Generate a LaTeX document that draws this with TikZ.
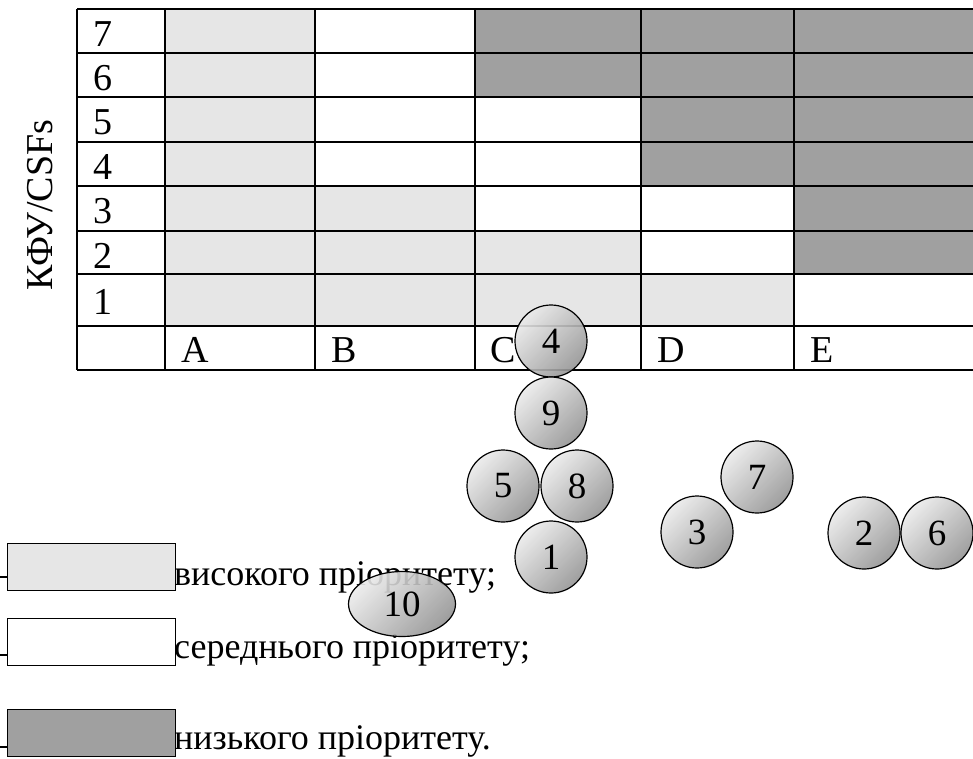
\documentclass[tikz,border=0pt]{standalone}
\usepackage{fontspec}
\setmainfont{Liberation Serif}
\usetikzlibrary{shapes.geometric}
\definecolor{lite}{HTML}{E6E6E6}
\definecolor{dark}{HTML}{A0A0A0}
\begin{document}
\begin{tikzpicture}[x=1pt,y=-1pt,
  gridline/.style={line width=2pt},
  lbl/.style={anchor=base west, inner sep=0pt, font=\fontsize{38}{38}\selectfont},
  legtext/.style={anchor=base west, inner sep=0pt, font=\fontsize{36}{36}\selectfont},
  ball/.style={circle, draw, line width=1.2pt, minimum size=72pt, inner sep=0pt,
    top color=black!8, bottom color=black!42, shading angle=45,
    fill opacity=0.9, text opacity=1, font=\fontsize{37}{37}\selectfont},
  legbox/.style={draw, line width=1.2pt, anchor=north west, minimum width=168pt,
    minimum height=47pt, inner sep=0pt},
  stub/.style={line width=1.2pt}]
\useasboundingbox (0,0) rectangle (973,758);
% cell fills
\fill[lite] (165,9) rectangle (315,186);
\fill[lite] (165,186) rectangle (475,231);
\fill[lite] (165,231) rectangle (641,274);
\fill[lite] (165,274) rectangle (794,326);
\fill[dark] (475,9) rectangle (973,97);
\fill[dark] (641,97) rectangle (973,186);
\fill[dark] (794,186) rectangle (973,274);
% grid
\foreach \y in {9,53,97,142,186,231,274,326,370}
  \draw[gridline] (77,\y) -- (973,\y);
\foreach \x in {77,165,315,475,641,794}
  \draw[gridline] (\x,9) -- (\x,370);
% row labels
\node[lbl] (r7) at (93,46) {7};
\node[lbl] (r6) at (93,90) {6};
\node[lbl] (r5) at (93,134) {5};
\node[lbl] (r4) at (93,179) {4};
\node[lbl] (r3) at (93,223) {3};
\node[lbl] (r2) at (93,268) {2};
\node[lbl] (r1) at (93,314) {1};
% column labels
\node[lbl] (cA) at (181,362) {A};
\node[lbl] (cB) at (331,362) {B};
\node[lbl] (cC) at (490,362) {C};
\node[lbl] (cD) at (657,362) {D};
\node[lbl] (cE) at (810,362) {E};
% axis label
\node[rotate=90, inner sep=0pt, font=\fontsize{38}{38}\selectfont] (ylab) at (40,205) {КФУ/CSFs};
% legend texts
\node[legtext] (t1) at (174,585) {високого пріоритету;};
\node[legtext] (t2) at (174,658) {середнього пріоритету;};
\node[legtext] (t3) at (174,749) {низького пріоритету.};
% legend boxes
\node[legbox, fill=lite] (b1) at (7,543) {};
\node[legbox, fill=white] (b2) at (7,618) {};
\node[legbox, fill=dark] (b3) at (7,709) {};
\coordinate (s1) at (0,577);
\coordinate (s2) at (0,655);
\coordinate (s3) at (0,747);
\draw[stub] (s1) -- (s1 -| b1.west);
\draw[stub] (s2) -- (s2 -| b2.west);
\draw[stub] (s3) -- (s3 -| b3.west);
% balls
\node[ball] (c4) at (551,341) {4};
\node[ball] (c9) at (551,413) {9};
\node[ball] (c5) at (503,486) {5};
\node[ball] (c8) at (577,486) {8};
\node[ball] (c1) at (551,557) {1};
\node[ball] (c7) at (757,477) {7};
\node[ball] (c3) at (697,532) {3};
\node[ball] (c2) at (864,533) {2};
\node[ball] (c6) at (937,533) {6};
\node[ball, ellipse, minimum width=107pt, minimum height=65pt] (c10) at (402,604) {10};
\end{tikzpicture}
\end{document}
